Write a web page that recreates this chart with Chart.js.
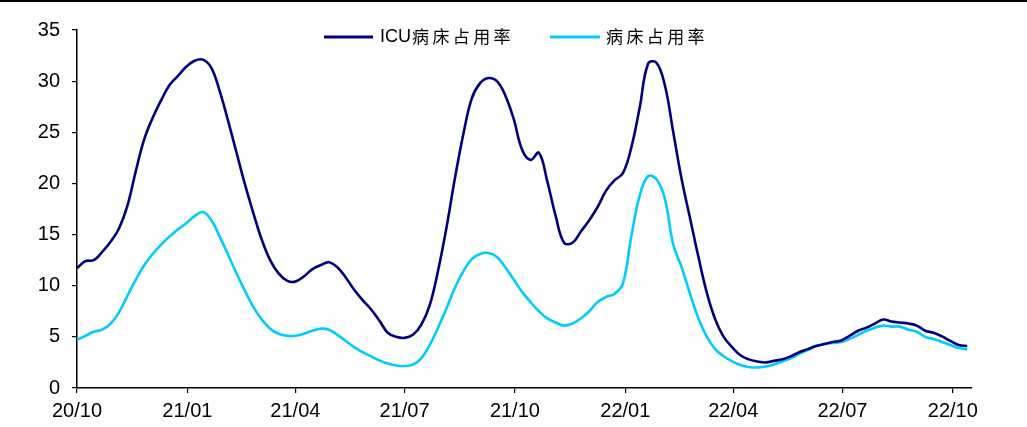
<!DOCTYPE html>
<html>
<head>
<meta charset="utf-8">
<script src="https://cdn.jsdelivr.net/npm/chart.js@4/dist/chart.umd.min.js"></script>
<style>
html,body{margin:0;padding:0;background:#fff;}
#wrap{width:1027px;height:427px;position:relative;}
</style>
</head>
<body>
<div id="wrap"><canvas id="c" width="1027" height="427"></canvas></div>
<script>
const dates = [
'2020-10-01','2020-10-08','2020-10-15','2020-10-22','2020-10-29','2020-11-05','2020-11-12','2020-11-19','2020-11-26','2020-12-03','2020-12-10','2020-12-17','2020-12-24','2020-12-31',
'2021-01-07','2021-01-14','2021-01-21','2021-01-28','2021-02-04','2021-02-11','2021-02-18','2021-02-25','2021-03-04','2021-03-11','2021-03-18','2021-03-25','2021-04-01','2021-04-08','2021-04-15','2021-04-22','2021-04-29','2021-05-06','2021-05-13','2021-05-20','2021-05-27','2021-06-03','2021-06-10','2021-06-17','2021-06-24','2021-07-01','2021-07-08','2021-07-15','2021-07-22','2021-07-29','2021-08-05','2021-08-12','2021-08-19','2021-08-26','2021-09-02','2021-09-09','2021-09-16','2021-09-23','2021-09-30','2021-10-07','2021-10-14','2021-10-21','2021-10-28','2021-11-04','2021-11-11','2021-11-18','2021-11-25','2021-12-02','2021-12-09','2021-12-16','2021-12-23','2021-12-30',
'2022-01-06','2022-01-13','2022-01-20','2022-01-27','2022-02-03','2022-02-10','2022-02-17','2022-02-24','2022-03-03','2022-03-10','2022-03-17','2022-03-24','2022-03-31','2022-04-07','2022-04-14','2022-04-21','2022-04-28','2022-05-05','2022-05-12','2022-05-19','2022-05-26','2022-06-02','2022-06-09','2022-06-16','2022-06-23','2022-06-30','2022-07-07','2022-07-14','2022-07-21','2022-07-28','2022-08-04','2022-08-11','2022-08-18','2022-08-25','2022-09-01','2022-09-08','2022-09-15','2022-09-22','2022-09-29','2022-10-06','2022-10-13'
];
const icuRate = [
11.7,12.4,12.5,13.3,14.3,15.6,17.8,21.2,24.3,26.4,
28.1,29.6,30.5,31.4,32.0,32.1,31.3,29.0,26.1,23.0,
19.9,17.1,14.5,12.5,11.2,10.5,10.4,10.9,11.6,12.0,
12.3,11.8,10.8,9.6,8.6,7.7,6.6,5.4,5.0,4.9,
5.2,6.2,8.1,11.5,15.7,20.5,24.8,28.3,29.8,30.3,
30.0,28.6,26.3,23.3,22.3,23.0,20.2,16.8,14.2,14.2,
15.3,16.4,17.7,19.3,20.3,21.0,23.5,27.4,31.7,31.8,
29.6,25.0,20.4,16.6,12.8,9.3,6.7,5.0,4.0,3.2,
2.8,2.6,2.5,2.65,2.8,3.1,3.5,3.8,4.1,4.3,
4.5,4.65,5.1,5.6,5.9,6.3,6.7,6.5,6.4,6.3,
6.1,5.6,5.4,5.05,4.6,4.2,4.1
];
const bedRate = [
4.7,5.1,5.5,5.7,6.3,7.4,9.0,10.6,12.0,13.1,
14.0,14.8,15.5,16.1,16.8,17.2,16.4,14.8,13.0,11.2,
9.5,7.9,6.7,5.8,5.3,5.1,5.1,5.3,5.6,5.8,
5.7,5.2,4.6,4.0,3.5,3.1,2.7,2.4,2.2,2.15,
2.3,2.9,4.2,5.9,7.8,9.8,11.4,12.6,13.1,13.2,
12.8,11.8,10.6,9.4,8.4,7.5,6.8,6.4,6.1,6.3,
6.8,7.5,8.4,8.9,9.2,10.2,14.8,18.8,20.7,20.4,
18.5,14.0,11.8,9.2,6.8,5.0,3.8,3.1,2.6,2.25,
2.05,2.0,2.1,2.3,2.6,2.9,3.35,3.7,4.1,4.3,
4.4,4.5,4.8,5.2,5.6,5.9,6.1,6.0,6.0,5.7,
5.5,5.0,4.8,4.5,4.2,3.9,3.8
];
const xTickDates = ['2020-10-01','2021-01-01','2021-04-01','2021-07-01','2021-10-01','2022-01-01','2022-04-01','2022-07-01','2022-10-01'];
const xTickLabels = ['20/10','21/01','21/04','21/07','21/10','22/01','22/04','22/07','22/10'];
const axisEndDate = '2022-10-17';
const seriesNames = ['ICU病床占用率','病床占用率'];

const DAY = 86400000;
const t0 = Date.parse(dates[0]);
const dayOf = s => Math.round((Date.parse(s) - t0) / DAY);
const tickDays = xTickDates.map(dayOf);
const labelByDay = {};
tickDays.forEach((d,i)=>{ labelByDay[d] = xTickLabels[i]; });

const FONT = "'Liberation Sans', Arial, 'Noto Sans CJK SC', sans-serif";

const legendPlugin = {
  id: 'customLegend',
  afterDraw(chart) {
    const ctx = chart.ctx;
    ctx.save();
    // top black rule
    ctx.fillStyle = '#000';
    ctx.fillRect(0, 0, 1027, 2);
    const items = [
      {x1: 324, x2: 373, tx: 380, color: chart.data.datasets[0].borderColor, label: chart.data.datasets[0].label},
      {x1: 550, x2: 600, tx: 606, color: chart.data.datasets[1].borderColor, label: chart.data.datasets[1].label}
    ];
    const y = 37;
    items.forEach(it => {
      ctx.strokeStyle = it.color;
      ctx.lineWidth = 3;
      ctx.beginPath();
      ctx.moveTo(it.x1, y);
      ctx.lineTo(it.x2, y);
      ctx.stroke();
      ctx.fillStyle = '#000';
      ctx.textBaseline = 'middle';
      ctx.textAlign = 'left';
      const m = it.label.match(/^([A-Za-z]*)(.*)$/);
      let x = it.tx;
      if (m[1]) {
        ctx.font = "18px 'Liberation Sans', Arial, sans-serif";
        ctx.fillText(m[1], x, y);
        x += ctx.measureText(m[1]).width + 1;
      }
      ctx.font = "17px 'Noto Sans CJK SC', sans-serif";
      for (const ch of m[2]) {
        ctx.fillText(ch, x, y);
        x += 20.4;
      }
    });
    ctx.restore();
  }
};

new Chart(document.getElementById('c'), {
  type: 'line',
  data: {
    datasets: [
      {
        label: seriesNames[0],
        data: dates.map((d,i)=>({x: dayOf(d), y: icuRate[i]})),
        borderColor: '#000080',
        borderWidth: 2.6,
        pointRadius: 0,
        tension: 0.4,
        fill: false
      },
      {
        label: seriesNames[1],
        data: dates.map((d,i)=>({x: dayOf(d), y: bedRate[i]})),
        borderColor: '#00CCFF',
        borderWidth: 2.6,
        pointRadius: 0,
        tension: 0.4,
        fill: false
      }
    ]
  },
  options: {
    responsive: false,
    animation: false,
    devicePixelRatio: 1,
    layout: { padding: { left: 0, right: 55, top: 30, bottom: 0 } },
    plugins: { legend: { display: false }, tooltip: { enabled: false } },
    scales: {
      x: {
        type: 'linear',
        min: 0,
        max: dayOf(axisEndDate),
        afterBuildTicks: (scale) => { scale.ticks = tickDays.map(v => ({value: v})); },
        afterFit: (scale) => { scale.height = 39; },
        ticks: {
          autoSkip: false,
          maxRotation: 0,
          padding: 6,
          color: '#000',
          font: { family: FONT, size: 20 },
          callback: (v) => labelByDay[v] || ''
        },
        grid: { display: true, drawOnChartArea: false, drawTicks: true, tickLength: 5, color: '#000', lineWidth: 1.2 },
        border: { display: true, color: '#000', width: 1.5 }
      },
      y: {
        min: 0,
        max: 35,
        afterFit: (scale) => { scale.width = 77; },
        ticks: {
          stepSize: 5,
          padding: 12,
          color: '#000',
          font: { family: FONT, size: 20 }
        },
        grid: { display: true, drawOnChartArea: false, drawTicks: true, tickLength: 5, color: '#000', lineWidth: 1.2 },
        border: { display: true, color: '#000', width: 1.5 }
      }
    }
  },
  plugins: [legendPlugin]
});
</script>
</body>
</html>
